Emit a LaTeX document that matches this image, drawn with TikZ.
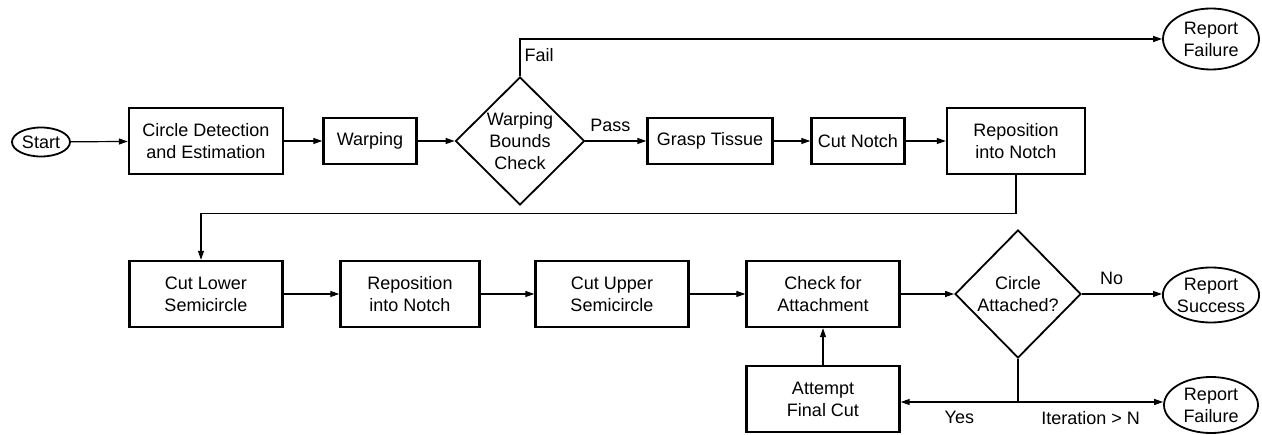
\documentclass[tikz,border=0pt]{standalone}
\usepackage{fontspec}
\setmainfont{Liberation Sans}
\usetikzlibrary{positioning,shapes.geometric,arrows.meta}

\begin{document}
\begin{tikzpicture}[x=1pt, y=-1pt,
      every node/.style={font=\fontsize{18}{22}\selectfont, align=center},
      box/.style={draw, line width=2.4pt, minimum height=66pt, inner sep=2pt},
      decision/.style={draw, diamond, line width=1.8pt, inner sep=0pt},
      terminal/.style={draw, ellipse, line width=1.8pt, inner sep=0pt},
      flow/.style={line width=1.2pt, -{Triangle[length=9pt,width=6pt]}},
      label/.style={inner xsep=4pt, inner ysep=8.5pt}]
  \useasboundingbox (0,0) rectangle (1262,435);
  %.
  \node[terminal, minimum width=58pt, minimum height=29pt] (start) at (41,142) {Start};
  \node[box, minimum width=154pt] (detect) at (206,141) {Circle Detection\\and Estimation};
  \node[box, minimum width=93pt, minimum height=46pt] (warp) at (370,141) {Warping};
  \node[decision, minimum width=129pt, minimum height=128pt] (bounds) at (520,141) {Warping\\Bounds\\Check};
  \node[box, minimum width=125pt, minimum height=46pt] (grasp) at (710,141) {Grasp Tissue};
  \node[box, minimum width=93pt, minimum height=46pt] (notch) at (858,141) {Cut Notch};
  \node[box, minimum width=138pt] (repos) at (1016,141) {Reposition\\into Notch};
  \node[terminal, minimum width=96pt, minimum height=61pt] (failA) at (1211,39) {Report\\Failure};
  %.
  \node[box, minimum width=153pt] (lower) at (206,294) {Cut Lower\\Semicircle};
  \node[box, minimum width=139pt] (reposB) at (410,294) {Reposition\\into Notch};
  \node[box, minimum width=153pt] (upper) at (612,294) {Cut Upper\\Semicircle};
  \node[box, minimum width=153pt] (check) at (823,294) {Check for\\Attachment};
  \node[decision, minimum width=126pt, minimum height=128pt] (attached) at (1018,294) {Circle\\Attached?};
  \node[terminal, minimum width=94pt, minimum height=55pt] (success) at (1211,295) {Report\\Success};
  \node[box, minimum width=153pt] (attempt) at (823,399) {Attempt\\Final Cut};
  \node[terminal, minimum width=94pt, minimum height=56pt] (failB) at (1211,405) {Report\\Failure};
  \coordinate (split) at (1018,402);
  %.
  \draw[flow] (start) -- (detect);
  \draw[flow] (detect) -- (warp);
  \draw[flow] (warp) -- (bounds);
  \draw[flow] (bounds.north) |- node[pos=0.5, below right, label] {Fail} (failA.west);
  \draw[flow] (bounds.east) -- node[pos=0.41, above, label] {Pass} (grasp.west);
  \draw[flow] (grasp) -- (notch);
  \draw[flow] (notch) -- (repos);
  \draw[flow] (repos.south) -- ++(0,38) -| ([xshift=-5pt]lower.north);
  \draw[flow] (lower) -- (reposB);
  \draw[flow] (reposB) -- (upper);
  \draw[flow] (upper) -- (check);
  \draw[flow] (check) -- (attached);
  \draw[flow] (attached.east) -- node[pos=0.37, above, label] {No} (attached.east -| success.west);
  \draw[line width=1.2pt] (attached.south) -- (split);
  \draw[flow] (split) -- node[midway, below, label] {Yes} (split -| attempt.east);
  \draw[flow] (split) -- node[midway, below, label] {Iteration > N} (split -| failB.west);
  \draw[flow] (attempt) -- (check);
  %.
\end{tikzpicture}
\end{document}
